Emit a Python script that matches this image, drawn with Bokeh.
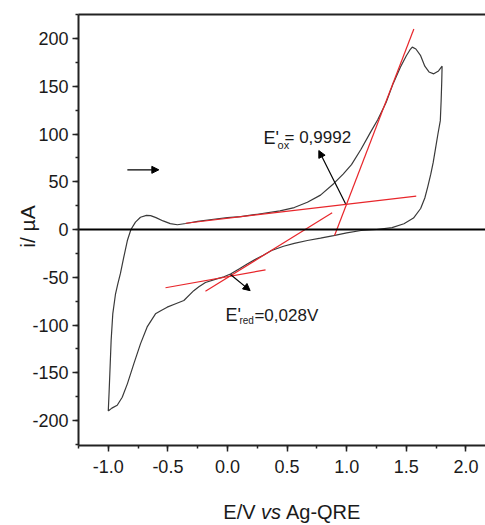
from bokeh.plotting import figure
from bokeh.models import (Range1d, SingleIntervalTicker, PrintfTickFormatter, Arrow,
                          NormalHead, Label, LinearAxis, FixedTicker)
from bokeh.embed import file_html
from bokeh.resources import INLINE

# Cyclic voltammogram (E / V vs Ag-QRE, i / uA)
cv_potential = [
    -1.000, -0.993, -0.987, -0.976, -0.962, -0.940, -0.920, -0.898, -0.870, -0.840,
    -0.810, -0.772, -0.730, -0.680, -0.645, -0.600, -0.540, -0.480, -0.420, -0.350,
    -0.250, -0.100, 0.000, 0.110, 0.250, 0.440, 0.560, 0.670, 0.780, 0.890,
    0.970, 1.040, 1.120, 1.200, 1.260, 1.330, 1.390, 1.450, 1.500, 1.530,
    1.550, 1.580, 1.620, 1.655, 1.690, 1.730, 1.770, 1.800,
    1.797, 1.792, 1.785, 1.765, 1.745, 1.725, 1.705, 1.680, 1.655, 1.620,
    1.560, 1.480, 1.380, 1.250, 1.120, 1.000, 0.890, 0.780, 0.670, 0.560,
    0.470, 0.370, 0.300, 0.230, 0.165, 0.100, 0.025, -0.030, -0.090, -0.185,
    -0.240, -0.283, -0.366, -0.440, -0.506, -0.560, -0.604, -0.674, -0.730, -0.786,
    -0.840, -0.883, -0.925, -0.970, -1.000,
]
cv_current = [
    -190, -170, -151, -116, -88, -68, -57, -46, -29, -11.5,
    0, 7.7, 12.9, 14.8, 14.6, 12.5, 9, 6.2, 5.0, 6.3,
    8.5, 11, 12.5, 13.5, 16, 19.5, 23, 28.5, 36, 48,
    58, 68, 84, 102, 115, 133, 153, 170, 182, 188,
    191, 189, 182, 171, 165, 163, 166, 171,
    155, 135, 114, 100, 85, 70, 58, 45, 33, 22,
    12, 6, 2, 0, -1, -3.5, -6.3, -9, -11.5, -14.5,
    -17.5, -22, -27, -31.5, -36, -41, -46.5, -49.5, -51.6, -55.5,
    -60, -64, -74.3, -78, -81.3, -85, -88.3, -102, -119.7, -140.7,
    -161.6, -175.6, -184, -187, -190,
]

# Tangent lines (red)
ox_base_x = [-0.35, 1.583]
ox_base_y = [6.6, 35.0]
ox_steep_x = [0.898, 1.563]
ox_steep_y = [-6.3, 210.0]
red_base_x = [-0.52, 0.319]
red_base_y = [-61.0, -42.2]
red_steep_x = [-0.185, 0.878]
red_steep_y = [-64.6, 17.5]

# Axis extents and ticks
x_min, x_max = -1.25, 2.164
y_min, y_max = -226, 225
x_tick_interval = 0.5
y_tick_interval = 50

FONT = "Liberation Sans"
TXT = "#1a1a1a"
AX = "#222222"
RED = "#e8262b"

# pixel scale: 119.2 px per V, 0.955 px per uA; frame covers the whole canvas
p = figure(width=485, height=525, output_backend="svg", toolbar_location=None,
           x_range=Range1d(-1.904, 2.164), y_range=Range1d(-309.9, 239.8),
           x_axis_location=None, y_axis_location=None,
           min_border_left=0, min_border_right=0, min_border_top=0,
           min_border_bottom=0)
p.grid.visible = False
p.outline_line_color = None


def style(ax):
    ax.axis_line_width = 2
    ax.axis_line_color = AX
    ax.major_tick_out = 6
    ax.major_tick_in = 0
    ax.minor_tick_out = 3
    ax.minor_tick_in = 0
    ax.major_tick_line_width = 1.5
    ax.minor_tick_line_width = 1.5
    ax.major_tick_line_color = AX
    ax.minor_tick_line_color = AX
    ax.major_label_text_font = FONT
    ax.major_label_text_font_size = "18px"
    ax.major_label_text_color = TXT


xa = LinearAxis(fixed_location=y_min, bounds=(x_min, x_max),
                ticker=SingleIntervalTicker(interval=x_tick_interval, num_minor_ticks=2),
                formatter=PrintfTickFormatter(format="%.1f"))
style(xa)
xa.major_label_standoff = 9
p.add_layout(xa, "below")

ya = LinearAxis(fixed_location=x_min, bounds=(y_min, y_max),
                ticker=SingleIntervalTicker(interval=y_tick_interval, num_minor_ticks=2),
                formatter=PrintfTickFormatter(format="%d"))
style(ya)
ya.major_label_standoff = 4
p.add_layout(ya, "left")


def plain_line_axis(loc, color, width):
    ax = LinearAxis(fixed_location=loc, bounds=(x_min, x_max), ticker=FixedTicker(ticks=[]),
                    axis_line_width=width, axis_line_color=color,
                    major_tick_out=0, minor_tick_out=0, major_label_text_font_size="0px",
                    major_label_standoff=0)
    return ax


p.add_layout(plain_line_axis(y_max, AX, 2), "above")
p.add_layout(plain_line_axis(0, "black", 2), "below")

p.line(cv_potential, cv_current, line_color="#3a3a3a", line_width=1.2)
for xs, ys in ((ox_base_x, ox_base_y), (ox_steep_x, ox_steep_y),
               (red_base_x, red_base_y), (red_steep_x, red_steep_y)):
    p.line(xs, ys, line_color=RED, line_width=1.2)


def arrow(x0, y0, x1, y1):
    p.add_layout(Arrow(end=NormalHead(size=7, fill_color="black", line_color="black"),
                       x_start=x0, y_start=y0, x_end=x1, y_end=y1,
                       line_color="black", line_width=1.2))


arrow(0.99, 27, 0.766, 82.7)
arrow(0.025, -47, 0.19, -64)
arrow(-0.84, 62.5, -0.576, 62.5)


def label(x, y, text, size, style="normal", angle=0, align="left", baseline="alphabetic"):
    p.add_layout(Label(x=x, y=y, text=text, text_font=FONT, text_font_size=size,
                       text_font_style=style, text_color=TXT, text_align=align,
                       text_baseline=baseline, angle=angle, angle_units="deg"))


# annotations
label(0.302, 96.3, "E'", "18px")
label(0.42, 88, "ox", "11px")
label(0.478, 96.3, "= 0,9992", "17px")
label(-0.017, -90, "E'", "18px")
label(0.10, -95, "red", "10px")
label(0.226, -90, "=0,028V", "17px")

# axis titles
label(-1.678, 3.1, "i/ µA", "21px", angle=90, align="center", baseline="middle")
label(-0.035, -295.3, "E/V", "20px")
label(0.280, -295.3, "vs", "20px", "italic")
label(0.490, -295.3, "Ag-QRE", "20px")

open("out.html", "w").write(file_html(p, INLINE))
